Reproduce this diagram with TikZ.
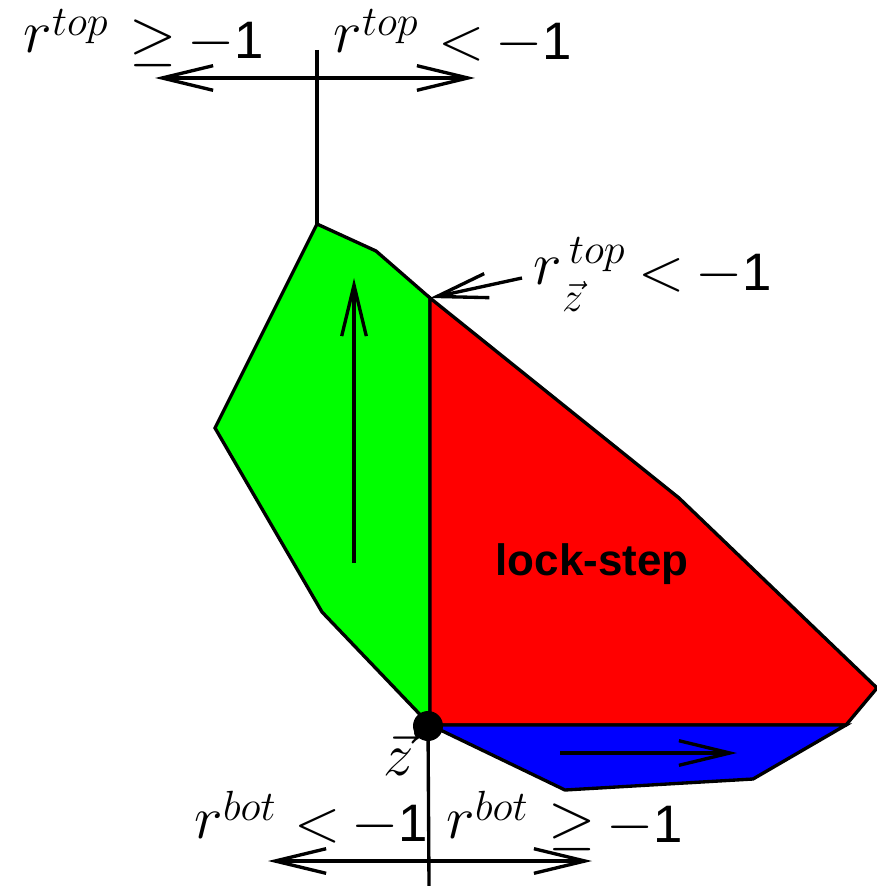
\documentclass[tikz,border=0pt]{standalone}
\usepackage{fontspec}
\newfontfamily\hv{Liberation Sans}
\usetikzlibrary{arrows.meta}
\newcommand\onesf{\mbox{\fontsize{15}{17}\hv 1}}
\newcommand\supt[1]{\raisebox{5pt}{\fontsize{13}{15}\selectfont$#1$}}
\newcommand\relx[1]{$#1$\hspace{2.9pt}$-$\onesf}
\begin{document}
\begin{tikzpicture}[x=0.01cm,y=-0.01cm,line width=0.95pt,
  lbl/.style={inner sep=0pt,anchor=base west,font=\fontsize{17.28}{20}\selectfont},
  barb/.style={-{Straight Barb[length=14.5pt,width=7pt]}},
  dbarb/.style={{Straight Barb[length=14.5pt,width=7pt]}-{Straight Barb[length=14.5pt,width=7pt]}},
  region/.style={draw=black,line join=miter},
  dotnode/.style={circle,fill=black,inner sep=0pt,minimum size=0.3cm}]
\useasboundingbox (0,0) rectangle (876,886);
% vertices
\coordinate (g1) at (317,224);
\coordinate (g2) at (376,251);
\coordinate (g3) at (430,298);
\coordinate (g4) at (430,725);
\coordinate (g5) at (322,612);
\coordinate (g6) at (215,428);
\coordinate (r2) at (679,498);
\coordinate (r3) at (877,688);
\coordinate (r4) at (846,725);
\coordinate (b3) at (753,779);
\coordinate (b4) at (565,790);
% regions
\filldraw[region,fill=green] (g1) -- (g2) -- (g3) -- (g4) -- (g5) -- (g6) -- cycle;
\filldraw[region,fill=red] (g3) -- (r2) -- (r3) -- (r4) -- (g4) -- cycle;
\filldraw[region,fill=blue] (g4) -- (r4) -- (b3) -- (b4) -- cycle;
% axes
\coordinate (vtop) at (317,50);
\coordinate (tl) at (155,78);
\coordinate (tr) at (475,78);
\draw (vtop) -- (g1);
\draw[dbarb] (tl) -- (tr);
\node[dotnode] (z) at (428,726) {};
\coordinate (vbot) at (429,886);
\coordinate (bl) at (268,861);
\coordinate (br) at (592,861);
\draw (z.center) -- (vbot);
\draw[dbarb] (bl) -- (br);
% direction arrows
\coordinate (ga1) at (354,563);
\coordinate (ga2) at (354,278);
\draw[barb] (ga1) -- (ga2);
\coordinate (ba1) at (560,753);
\coordinate (ba2) at (737,753);
\draw[barb] (ba1) -- (ba2);
\coordinate (lab) at (522,278);
\draw[barb] (lab) -- (g3);
% labels
\node[lbl] (t1) at (22,53) {$r$\supt{top}};
\node[lbl] (t1rel) at (128,59) {\relx{\geq}};
\node[lbl] (t2) at (332,53) {$r$\supt{top}};
\node[lbl] (t2rel) at (437,60) {\relx{<}};
\node[lbl] (t3) at (532,285) {$r$\rlap{\raisebox{-7.5pt}{\fontsize{13}{15}\selectfont$\vec z$}}\hspace{2pt}\raisebox{6.2pt}{\fontsize{13}{15}\selectfont$top$}};
\node[lbl] (t3rel) at (637,291) {\relx{<}};
\node[lbl] (b1) at (193,838) {$r$\supt{bot}};
\node[lbl] (b1rel) at (293,841) {\relx{<}};
\node[lbl] (b2) at (445,838) {$r$\supt{bot}};
\node[lbl] (b2rel) at (547,842) {\relx{\geq}};
\node[lbl,font=\fontsize{19}{22}\selectfont] (zl) at (382,775) {$\vec z$};
\node[inner sep=0pt,anchor=base,font=\fontsize{12.5}{15}\hv\bfseries] (ls) at (592,575) {lock-step};
\end{tikzpicture}
\end{document}
